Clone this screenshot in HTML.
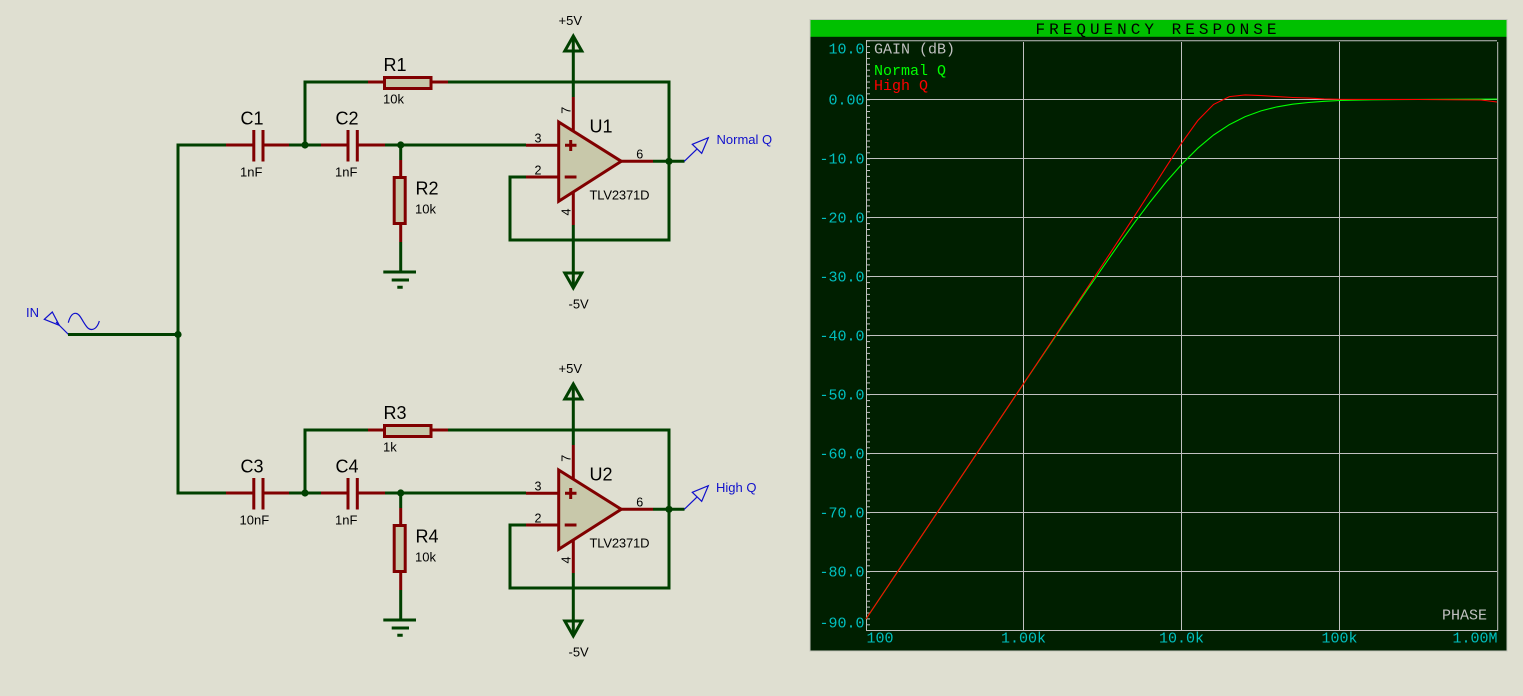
<!DOCTYPE html>
<html><head><meta charset="utf-8"><style>
html,body{margin:0;padding:0;background:#dfdfd1;}
svg{display:block;}
.s{font-family:"Liberation Sans",Arial,sans-serif;}
.m{font-family:"Liberation Mono","DejaVu Sans Mono",monospace;}
</style></head><body>
<svg width="1523" height="696" viewBox="0 0 1523 696" xmlns="http://www.w3.org/2000/svg">
<rect x="0" y="0" width="1523" height="696" fill="#dfdfd1"/>

<!-- input generator -->
<g fill="none" stroke="#1010cc" stroke-width="1.2">
  <polygon points="44.3,319.3 52.3,312 59.3,325.3"/>
  <line x1="56" y1="322" x2="68.5" y2="334.5"/>
  <path d="M68.3,322.7 C70,316 72.5,313.3 75.5,313.3 C79,313.3 81,318 83.3,321.7 C86,326 88,329.5 91.7,329.5 C95,329.5 98,326 99.3,321"/>
</g>
<text x="26" y="316.8" class="s" font-size="13" fill="#1010cc">IN</text>
<g stroke="#004000" stroke-width="3" fill="none">
  <path d="M68,334.5 H178"/>
  <path d="M178,145 V493"/>
</g>
<circle cx="178" cy="334.5" r="3.6" fill="#004000"/>

<!-- branch template drawn twice -->
<g id="b1">
<g stroke="#004000" stroke-width="3" fill="none">
  <path d="M176.5,145 H226"/>
  <path d="M289,145 H321"/>
  <path d="M305,145 V82 H368"/>
  <path d="M448,82 H669 V240 H510 V177 H526"/>
  <path d="M385,145 H526"/>
  <path d="M400.7,145 V160"/>
  <path d="M400.7,242 V272"/>
  <path d="M573.3,37 V97"/>
  <path d="M573.3,225 V287"/>
  <path d="M653,161.3 H684.5"/>
  <path d="M669,161.3 V240"/>
  <!-- ground -->
  <path d="M383.3,272 H416 M391.7,280 H409 M397.3,287.3 H402.7"/>
  <!-- +5V arrow -->
  <polygon points="564.8,51 573.3,36 581.8,51"/>
  <!-- -5V arrow -->
  <polygon points="564.8,273 581.8,273 573.3,288"/>
</g>
<g stroke="#800000" stroke-width="3" fill="none">
  <path d="M226,145 H253 M263,145 H289"/>
  <path d="M253.8,130 V161.5 M263,130 V161.5"/>
  <path d="M321,145 H348 M357.3,145 H385"/>
  <path d="M348,130 V161.5 M357.3,130 V161.5"/>
  <path d="M368,82 H384 M431,82 H448"/>
  <path d="M400.7,160 V177 M400.7,224 V242"/>
  <path d="M526,145.3 H558 M526,177 H558"/>
  <path d="M573.3,97 V131 M573.3,192 V225"/>
  <path d="M621,161.3 H653"/>
</g>
<rect x="384.5" y="77.5" width="46.5" height="11" fill="#c8c8aa" stroke="#800000" stroke-width="3"/>
<rect x="394.2" y="177.5" width="11" height="46" fill="#c8c8aa" stroke="#800000" stroke-width="3"/>
<polygon points="558.7,122 621.3,161.3 558.7,201.3" fill="#c8c8aa" stroke="#800000" stroke-width="3" stroke-linejoin="miter"/>
<path d="M565,145.3 H576.5 M570.7,140 V151 M564.7,177 H576.5" stroke="#800000" stroke-width="3" fill="none"/>
<g fill="#004000">
  <circle cx="305" cy="145" r="3.6"/>
  <circle cx="400.7" cy="145" r="3.6"/>
  <circle cx="669" cy="161.3" r="3.6"/>
</g>
<g fill="none" stroke="#1010cc" stroke-width="1.2">
  <line x1="684.3" y1="161.3" x2="696.7" y2="149.3"/>
  <polygon points="692.3,144.3 708.3,137.7 701.7,153.3"/>
</g>
<g class="s" fill="#000">
  <text x="240.5" y="124.5" font-size="18">C1</text>
  <text x="335.5" y="124.5" font-size="18">C2</text>
  <text x="383.5" y="71" font-size="18">R1</text>
  <text x="415.5" y="194.3" font-size="18">R2</text>
  <text x="589.5" y="132.7" font-size="18">U1</text>
  <text x="240" y="176.3" font-size="13">1nF</text>
  <text x="335" y="176.3" font-size="13">1nF</text>
  <text x="383" y="103.5" font-size="13">10k</text>
  <text x="415" y="213.5" font-size="13">10k</text>
  <text x="589.5" y="199.5" font-size="13" textLength="60">TLV2371D</text>
  <text x="558.5" y="25" font-size="13">+5V</text>
  <text x="568.5" y="308.3" font-size="13">-5V</text>
  <text x="534.5" y="142.3" font-size="12.5">3</text>
  <text x="534.5" y="174.5" font-size="12.5">2</text>
  <text x="636.3" y="158.7" font-size="12.5">6</text>
  <text transform="translate(570.5,110.3) rotate(-90)" text-anchor="middle" font-size="12.5">7</text>
  <text transform="translate(570.5,212) rotate(-90)" text-anchor="middle" font-size="12.5">4</text>
</g>
<text x="716.5" y="144" class="s" font-size="13" fill="#1010cc">Normal Q</text>
</g>

<g transform="translate(0,348)">
<g stroke="#004000" stroke-width="3" fill="none">
  <path d="M176.5,145 H226"/>
  <path d="M289,145 H321"/>
  <path d="M305,145 V82 H368"/>
  <path d="M448,82 H669 V240 H510 V177 H526"/>
  <path d="M385,145 H526"/>
  <path d="M400.7,145 V160"/>
  <path d="M400.7,242 V272"/>
  <path d="M573.3,37 V97"/>
  <path d="M573.3,225 V287"/>
  <path d="M653,161.3 H684.5"/>
  <path d="M669,161.3 V240"/>
  <path d="M383.3,272 H416 M391.7,280 H409 M397.3,287.3 H402.7"/>
  <polygon points="564.8,51 573.3,36 581.8,51"/>
  <polygon points="564.8,273 581.8,273 573.3,288"/>
</g>
<g stroke="#800000" stroke-width="3" fill="none">
  <path d="M226,145 H253 M263,145 H289"/>
  <path d="M253.8,130 V161.5 M263,130 V161.5"/>
  <path d="M321,145 H348 M357.3,145 H385"/>
  <path d="M348,130 V161.5 M357.3,130 V161.5"/>
  <path d="M368,82 H384 M431,82 H448"/>
  <path d="M400.7,160 V177 M400.7,224 V242"/>
  <path d="M526,145.3 H558 M526,177 H558"/>
  <path d="M573.3,97 V131 M573.3,192 V225"/>
  <path d="M621,161.3 H653"/>
</g>
<rect x="384.5" y="77.5" width="46.5" height="11" fill="#c8c8aa" stroke="#800000" stroke-width="3"/>
<rect x="394.2" y="177.5" width="11" height="46" fill="#c8c8aa" stroke="#800000" stroke-width="3"/>
<polygon points="558.7,122 621.3,161.3 558.7,201.3" fill="#c8c8aa" stroke="#800000" stroke-width="3"/>
<path d="M565,145.3 H576.5 M570.7,140 V151 M564.7,177 H576.5" stroke="#800000" stroke-width="3" fill="none"/>
<g fill="#004000">
  <circle cx="305" cy="145" r="3.6"/>
  <circle cx="400.7" cy="145" r="3.6"/>
  <circle cx="669" cy="161.3" r="3.6"/>
</g>
<g fill="none" stroke="#1010cc" stroke-width="1.2">
  <line x1="684.3" y1="161.3" x2="696.7" y2="149.3"/>
  <polygon points="692.3,144.3 708.3,137.7 701.7,153.3"/>
</g>
<g class="s" fill="#000">
  <text x="240.5" y="124.5" font-size="18">C3</text>
  <text x="335.5" y="124.5" font-size="18">C4</text>
  <text x="383.5" y="71" font-size="18">R3</text>
  <text x="415.5" y="194.3" font-size="18">R4</text>
  <text x="589.5" y="132.7" font-size="18">U2</text>
  <text x="239.5" y="176.3" font-size="13">10nF</text>
  <text x="335" y="176.3" font-size="13">1nF</text>
  <text x="383" y="103.5" font-size="13">1k</text>
  <text x="415" y="213.5" font-size="13">10k</text>
  <text x="589.5" y="199.5" font-size="13" textLength="60">TLV2371D</text>
  <text x="558.5" y="25" font-size="13">+5V</text>
  <text x="568.5" y="308.3" font-size="13">-5V</text>
  <text x="534.5" y="142.3" font-size="12.5">3</text>
  <text x="534.5" y="174.5" font-size="12.5">2</text>
  <text x="636.3" y="158.7" font-size="12.5">6</text>
  <text transform="translate(570.5,110.3) rotate(-90)" text-anchor="middle" font-size="12.5">7</text>
  <text transform="translate(570.5,212) rotate(-90)" text-anchor="middle" font-size="12.5">4</text>
</g>
<text x="716" y="144" class="s" font-size="13" fill="#1010cc">High Q</text>
</g>

<!-- ================= GRAPH ================= -->
<defs>
  <pattern id="tk" x="866" y="40.2" width="6" height="5.9" patternUnits="userSpaceOnUse">
    <rect x="0" y="0" width="6" height="1" fill="#c0c0c0"/>
  </pattern>
</defs>
<rect x="810" y="19.5" width="697" height="631.5" fill="#001f00" stroke="#c4c4bc" stroke-width="1"/>
<rect x="810.5" y="20" width="696" height="16.8" fill="#00c000"/>
<text x="1035.5" y="34" class="m" font-size="16" fill="#000" textLength="241" lengthAdjust="spacing">FREQUENCY RESPONSE</text>

<rect x="867" y="40" width="3" height="591" fill="url(#tk)"/>
<g stroke="#c0c0c0" stroke-width="1" fill="none">
  <path d="M866,40.7 H1497 M866,99.5 H1497 M866,158.5 H1497 M866,217.5 H1497 M866,276.5 H1497 M866,335.5 H1497 M866,394.5 H1497 M866,453.5 H1497 M866,512.5 H1497 M866,571.5 H1497 M866,630.5 H1498"/>
  <path d="M866.5,40 V631 M1023.5,42 V630 M1181.5,42 V630 M1339.5,42 V630 M1497.7,42 V631"/>
</g>

<!-- curves -->
<polyline fill="none" stroke="#00ff00" stroke-width="1.1" points="866,618.9 1024,383.1 1055.6,336.2 1087.2,289.8 1118.8,244.4 1134.6,222.6 1150.4,201.6 1166.2,181.9 1182,164 1197.8,148.2 1213.6,135 1229.4,124.6 1245.2,116.6 1261,110.9 1276.8,106.9 1292.6,104.2 1308.4,102.5 1324.2,101.3 1340,100.5 1371.6,99.8 1419,99.4 1497,99.1"/>
<polyline fill="none" stroke="#ff0000" stroke-width="1.1" points="866,618.9 1024,382.9 1055.6,335.5 1087.2,288 1118.8,240.1 1134.6,215.9 1150.4,191.5 1166.2,166.8 1182,142.5 1197.8,120.5 1213.6,104.4 1229.4,96.6 1245.2,94.9 1261,95.6 1276.8,96.6 1292.6,97.5 1308.4,98.1 1324.2,98.9 1340,99.3 1371.6,99.4 1419,99.5 1481,100 1497,102"/>

<!-- axis labels -->
<g class="m" font-size="15" fill="#00c0c0" text-anchor="end">
  <text x="864.5" y="53.3">10.0</text>
  <text x="864.5" y="104.3">0.00</text>
  <text x="864.5" y="163.3">-10.0</text>
  <text x="864.5" y="222.3">-20.0</text>
  <text x="864.5" y="281.3">-30.0</text>
  <text x="864.5" y="340.3">-40.0</text>
  <text x="864.5" y="399.3">-50.0</text>
  <text x="864.5" y="458.3">-60.0</text>
  <text x="864.5" y="517.3">-70.0</text>
  <text x="864.5" y="576.3">-80.0</text>
  <text x="864.5" y="627.7">-90.0</text>
</g>
<g class="m" font-size="15" fill="#00c0c0">
  <text x="866.5" y="642.7">100</text>
  <text x="1023.5" y="642.7" text-anchor="middle">1.00k</text>
  <text x="1181.5" y="642.7" text-anchor="middle">10.0k</text>
  <text x="1339.5" y="642.7" text-anchor="middle">100k</text>
  <text x="1497.5" y="642.7" text-anchor="end">1.00M</text>
</g>
<g class="m" font-size="15">
  <text x="874" y="53.3" fill="#c0c0c0">GAIN (dB)</text>
  <text x="874" y="75" fill="#00ff00">Normal Q</text>
  <text x="874" y="90" fill="#ff0000">High Q</text>
  <text x="1442" y="619.3" fill="#c0c0c0">PHASE</text>
</g>
</svg>
</body></html>
